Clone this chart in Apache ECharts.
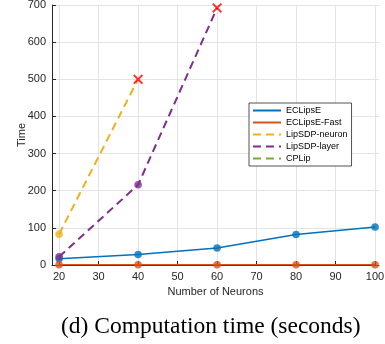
<!DOCTYPE html>
<html>
<head>
<meta charset="utf-8">
<script src="https://cdn.jsdelivr.net/npm/echarts@6/dist/echarts.min.js"></script>
<style>
  html, body { margin: 0; padding: 0; background: #fff; }
  #chart { width: 385px; height: 344px; }
</style>
</head>
<body>
<div id="chart"></div>
<script>
// number of neurons on the x axis
var neurons = [20, 40, 60, 80, 100];
var xTicks = [20, 30, 40, 50, 60, 70, 80, 90, 100];

// time values
var eclipse = [17, 28, 46, 82, 102];
var eclipseFast = [0.5, 0.5, 0.5, 0.5, 0.5];
var lipsdpNeuron = [83, 500];
var lipsdpLayer = [22, 216, 692];
var cplip = [];

// the last point of each LipSDP curve is a red cross (gave up)
var neuronCross = [[40, 500]];
var layerCross = [[60, 692]];

var C = {
  blue: "#0072BD",
  orange: "#D95319",
  yellow: "#EDB120",
  purple: "#7E2F8E",
  green: "#77AC30"
};

function pairs(xs, ys) {
  return ys.map(function(v, i) { return [xs[i], v]; });
}

function lineSeries(name, data, color, dashed) {
  return {
    name: name,
    type: "line",
    data: data,
    symbol: "none",
    lineStyle: { color: color, width: dashed ? 2 : 1.5, type: dashed ? [8, 5] : "solid" },
    itemStyle: { color: color },
    animation: false,
    z: 3
  };
}

function dotSeries(data, color) {
  return {
    type: "scatter",
    data: data,
    symbol: "circle",
    symbolSize: 7.5,
    itemStyle: { color: color },
    animation: false,
    z: 4
  };
}

var crossPath = "path://M0,1.4L1.4,0L5,3.6L8.6,0L10,1.4L6.4,5L10,8.6L8.6,10L5,6.4L1.4,10L0,8.6L3.6,5Z";

var myChart = echarts.init(document.getElementById("chart"));
var font = "Liberation Sans";
var option = {
  backgroundColor: "#fff",
  textStyle: { fontFamily: font },
  title: {
    text: "(d) Computation time (seconds)",
    left: 61,
    top: 315,
    padding: 0,
    textStyle: { fontFamily: "Liberation Serif", fontSize: 23.5, fontWeight: "normal", color: "#000" }
  },
  grid: { left: 52, right: 6, top: 5, bottom: 79, outerBoundsMode: "none" },
  legend: {
    orient: "vertical",
    left: 249,
    top: 103,
    itemWidth: 28,
    itemHeight: 9,
    itemGap: 3,
    padding: [3, 4, 3, 3],
    backgroundColor: "#fff",
    borderColor: "#262626",
    borderWidth: 0.8,
    borderRadius: 0,
    itemStyle: { color: "rgba(0,0,0,0)", borderWidth: 0 },
    textStyle: { fontFamily: font, fontSize: 9, lineHeight: 9, color: "#000" },
    data: ["ECLipsE", "ECLipsE-Fast", "LipSDP-neuron", "LipSDP-layer", "CPLip"]
  },
  xAxis: {
    type: "value",
    min: 18.2,
    max: 101,
    name: "Number of Neurons",
    nameLocation: "middle",
    nameGap: 16,
    nameTextStyle: { fontFamily: font, fontSize: 11, color: "#262626" },
    axisLine: { lineStyle: { color: "#262626", width: 1 } },
    axisTick: { inside: true, length: 4, lineStyle: { color: "#262626" }, customValues: xTicks },
    axisLabel: { fontSize: 11, color: "#262626", margin: 6, customValues: xTicks },
    splitLine: { show: true, lineStyle: { color: "#e3e3e3", width: 1 } }
  },
  yAxis: {
    type: "value",
    min: 0,
    max: 700,
    interval: 100,
    name: "Time",
    nameLocation: "middle",
    nameGap: 25,
    nameMoveOverlap: false,
    nameTextStyle: { fontFamily: font, fontSize: 11, color: "#262626" },
    axisLine: { show: true, lineStyle: { color: "#262626", width: 1 } },
    axisTick: { show: true, inside: true, length: 4, lineStyle: { color: "#262626" } },
    axisLabel: { fontSize: 11, color: "#262626", margin: 6 },
    splitLine: { show: true, lineStyle: { color: "#e3e3e3", width: 1 } }
  },
  series: [
    lineSeries("ECLipsE", pairs(neurons, eclipse), C.blue, false),
    lineSeries("ECLipsE-Fast", pairs(neurons, eclipseFast), C.orange, false),
    lineSeries("LipSDP-neuron", pairs(neurons, lipsdpNeuron), C.yellow, true),
    lineSeries("LipSDP-layer", pairs(neurons, lipsdpLayer), C.purple, true),
    lineSeries("CPLip", pairs(neurons, cplip), C.green, true),
    dotSeries(pairs(neurons, eclipse), C.blue),
    dotSeries(pairs(neurons, eclipseFast), C.orange),
    dotSeries(pairs(neurons, lipsdpNeuron).slice(0, 1), C.yellow),
    dotSeries(pairs(neurons, lipsdpLayer).slice(0, 2), C.purple),
    {
      type: "scatter",
      data: neuronCross.concat(layerCross),
      symbol: crossPath,
      symbolSize: 10,
      itemStyle: { color: "#ff0000" },
      animation: false,
      z: 5
    }
  ]
};
myChart.setOption(option);
</script>
</body>
</html>
